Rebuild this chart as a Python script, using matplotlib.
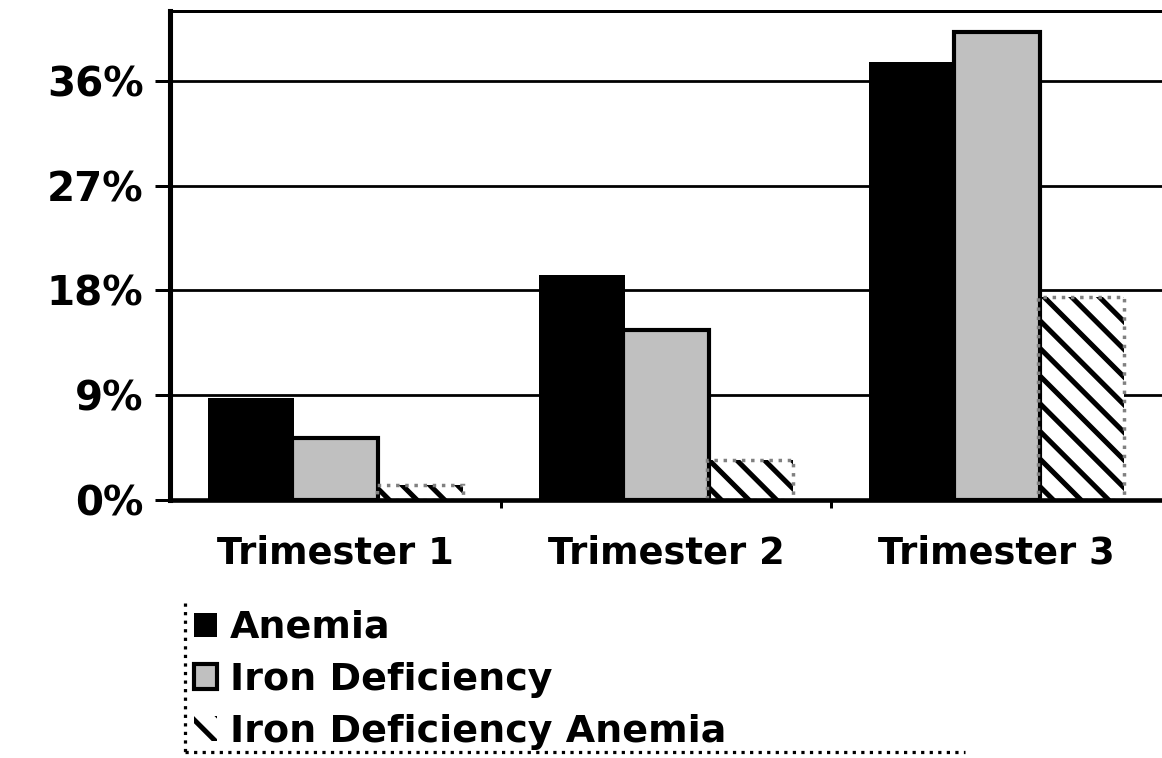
import numpy as np
import matplotlib
matplotlib.use("Agg")
import matplotlib.pyplot as plt
from matplotlib.lines import Line2D

trimesters = ["Trimester 1", "Trimester 2", "Trimester 3"]
anemia = [8.8, 19.3, 37.6]          # % of women
iron_def = [5.3, 14.6, 40.2]
iron_def_anemia = [1.3, 3.4, 17.4]
yticks = [0, 9, 18, 27, 36]

dpi = 166
plt.rcParams['hatch.linewidth'] = 2.2
fig = plt.figure(figsize=(1162 / dpi, 758 / dpi), dpi=dpi)
ax = fig.add_axes([170 / 1162, 258 / 758, 992 / 1162, 489 / 758])

x = np.arange(len(trimesters))
w = 0.26
ax.bar(x - 0.255, anemia, w, color="black", zorder=3, label="Anemia")
ax.bar(x, iron_def, w, color="#c0c0c0", edgecolor="black", linewidth=1.8, zorder=4,
       label="Iron Deficiency")
# hatch first (hatch takes the edge colour), then the dotted grey outline
ax.bar(x + 0.255, iron_def_anemia, w, color="white", edgecolor="black", linewidth=0,
       hatch="\\\\", zorder=3, label="Iron Deficiency Anemia")
ax.bar(x + 0.255, iron_def_anemia, w, fill=False, edgecolor="0.5", linewidth=1.5,
       linestyle=":", zorder=4)

ax.set_xlim(-0.5, 2.5)
ax.set_ylim(0, 42)
ax.set_yticks(yticks)
ax.set_yticklabels([f"{v}%" for v in yticks], fontsize=17.5, fontweight="heavy")
ax.yaxis.grid(True, color="black", linewidth=1.2, zorder=0)
ax.set_axisbelow(True)
ax.tick_params(axis="y", length=6.5, width=1.3, pad=5)

ax.set_xticks(x)
ax.set_xticklabels(trimesters, fontsize=16, fontweight="bold")
ax.set_xticks([0.5, 1.5], minor=True)
ax.tick_params(axis="x", which="major", length=0, pad=15)
ax.tick_params(axis="x", which="minor", length=3.5, width=1.3)

ax.spines["left"].set_linewidth(2.2)
ax.spines["bottom"].set_linewidth(2.0)
ax.spines["bottom"].set_zorder(5)
ax.spines["top"].set_linewidth(1.3)
ax.spines["right"].set_visible(False)

handles, labels = ax.get_legend_handles_labels()
fig.legend(handles, labels, loc="upper left", bbox_to_anchor=(194 / 1162, 1 - 610 / 758),
           frameon=False, prop={"size": 16.5, "weight": "bold"}, handlelength=0.6,
           handleheight=0.6, handletextpad=0.35, labelspacing=0.42, borderaxespad=0,
           borderpad=0)

# dotted legend frame: left and bottom edges only
fig.add_artist(Line2D([185 / 1162, 185 / 1162], [1 - 603 / 758, 1 - 752 / 758],
                      transform=fig.transFigure, color="black", linestyle=":", linewidth=1.4))
fig.add_artist(Line2D([185 / 1162, 965 / 1162], [1 - 752 / 758, 1 - 752 / 758],
                      transform=fig.transFigure, color="black", linestyle=":", linewidth=1.4))

fig.savefig("out.png", dpi=dpi)
